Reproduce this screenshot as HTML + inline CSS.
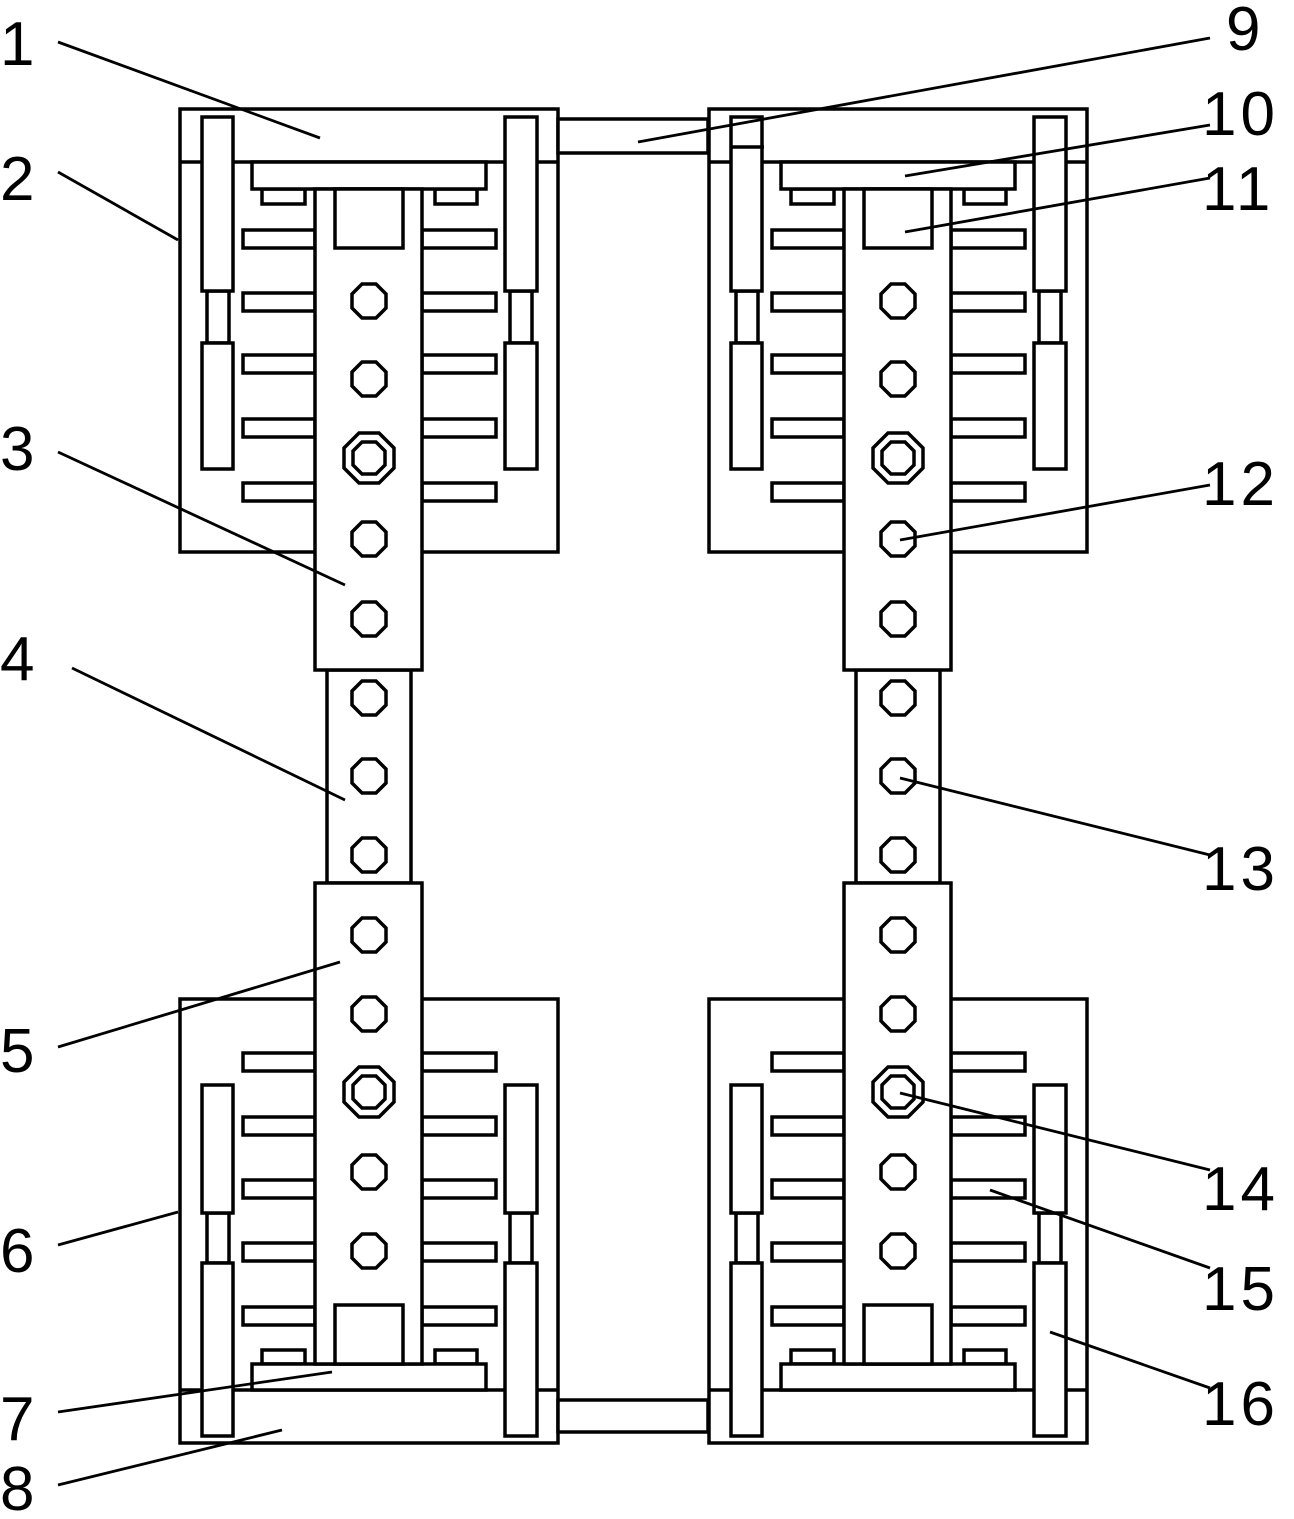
<!DOCTYPE html>
<html><head><meta charset="utf-8"><style>
html,body{margin:0;padding:0;background:#fff;}
svg{display:block;}
text{font-family:"Liberation Sans",sans-serif;font-size:62px;fill:#000;}
</style></head><body>
<svg width="1294" height="1519" viewBox="0 0 1294 1519" xmlns="http://www.w3.org/2000/svg">
<defs>
<g id="oct"><polygon points="-7,-17 7,-17 17,-7 17,7 7,17 -7,17 -17,7 -17,-7" fill="#fff" stroke="#000" stroke-width="3.5"/></g>
<g id="dbl"><polygon points="-10,-25 10,-25 25,-10 25,10 10,25 -10,25 -25,10 -25,-10" fill="#fff" stroke="#000" stroke-width="3.5"/><polygon points="-7,-16 7,-16 16,-7 16,7 7,16 -7,16 -16,7 -16,-7" fill="none" stroke="#000" stroke-width="3.5"/></g>
<g id="left" fill="#fff" stroke="#000" stroke-width="3.5">
  <rect x="180" y="109" width="378" height="443"/>
  <line x1="180" y1="162" x2="558" y2="162"/>
  <rect x="262" y="189" width="43" height="15"/>
  <rect x="435" y="189" width="42" height="15"/>
  <rect x="252" y="162" width="234" height="27"/>
  <rect x="243" y="230" width="72" height="18"/><rect x="243" y="293" width="72" height="18"/><rect x="243" y="355" width="72" height="18"/><rect x="243" y="419" width="72" height="18"/><rect x="243" y="483" width="72" height="18"/>
  <rect x="422" y="230" width="74" height="18"/><rect x="422" y="293" width="74" height="18"/><rect x="422" y="355" width="74" height="18"/><rect x="422" y="419" width="74" height="18"/><rect x="422" y="483" width="74" height="18"/>
  <rect x="207" y="291" width="22" height="52"/>
  <rect x="202" y="117" width="31" height="174"/>
  <rect x="202" y="343" width="31" height="126"/>
  <rect x="510" y="291" width="22" height="52"/>
  <rect x="505" y="117" width="32" height="174"/>
  <rect x="505" y="343" width="32" height="126"/>
  <rect x="180" y="999" width="378" height="444"/>
  <line x1="180" y1="1390" x2="558" y2="1390"/>
  <rect x="243" y="1053" width="72" height="18"/><rect x="243" y="1117" width="72" height="18"/><rect x="243" y="1180" width="72" height="18"/><rect x="243" y="1243" width="72" height="18"/><rect x="243" y="1307" width="72" height="18"/>
  <rect x="422" y="1053" width="74" height="18"/><rect x="422" y="1117" width="74" height="18"/><rect x="422" y="1180" width="74" height="18"/><rect x="422" y="1243" width="74" height="18"/><rect x="422" y="1307" width="74" height="18"/>
  <rect x="262" y="1350" width="43" height="14"/>
  <rect x="435" y="1350" width="42" height="14"/>
  <rect x="252" y="1364" width="234" height="26"/>
  <rect x="207" y="1213" width="22" height="50"/>
  <rect x="202" y="1085" width="31" height="128"/>
  <rect x="202" y="1263" width="31" height="173"/>
  <rect x="510" y="1213" width="22" height="50"/>
  <rect x="505" y="1085" width="32" height="128"/>
  <rect x="505" y="1263" width="32" height="173"/>
  <rect x="327" y="670" width="84" height="213"/>
  <rect x="315" y="189" width="107" height="481"/>
  <rect x="335" y="189" width="68" height="59"/>
  <rect x="315" y="883" width="107" height="481"/>
  <rect x="335" y="1305" width="68" height="59"/>
</g>
</defs>
<use href="#left"/>
<use href="#left" transform="translate(529,0)"/>
<line x1="732" y1="147" x2="764" y2="147" stroke="#000" stroke-width="3.5"/>
<rect x="558" y="119" width="150" height="34" fill="#fff" stroke="#000" stroke-width="3.5"/>
<rect x="558" y="1400" width="150" height="32" fill="#fff" stroke="#000" stroke-width="3.5"/>
<g>
<use href="#oct" x="369" y="301"/><use href="#oct" x="369" y="379"/><use href="#dbl" x="369" y="458"/><use href="#oct" x="369" y="539"/><use href="#oct" x="369" y="619"/>
<use href="#oct" x="369" y="698"/><use href="#oct" x="369" y="776"/><use href="#oct" x="369" y="855"/>
<use href="#oct" x="369" y="935"/><use href="#oct" x="369" y="1014"/><use href="#dbl" x="369" y="1092"/><use href="#oct" x="369" y="1172"/><use href="#oct" x="369" y="1251"/>
<use href="#oct" x="898" y="301"/><use href="#oct" x="898" y="379"/><use href="#dbl" x="898" y="458"/><use href="#oct" x="898" y="539"/><use href="#oct" x="898" y="619"/>
<use href="#oct" x="898" y="698"/><use href="#oct" x="898" y="776"/><use href="#oct" x="898" y="855"/>
<use href="#oct" x="898" y="935"/><use href="#oct" x="898" y="1014"/><use href="#dbl" x="898" y="1092"/><use href="#oct" x="898" y="1172"/><use href="#oct" x="898" y="1251"/>
</g>
<g stroke="#000" stroke-width="2.8">
<line x1="58" y1="42" x2="320" y2="138"/>
<line x1="58" y1="172" x2="178" y2="240"/>
<line x1="58" y1="452" x2="345" y2="585"/>
<line x1="72" y1="668" x2="345" y2="800"/>
<line x1="58" y1="1047" x2="340" y2="962"/>
<line x1="58" y1="1245" x2="178" y2="1212"/>
<line x1="58" y1="1412" x2="332" y2="1372"/>
<line x1="58" y1="1485" x2="282" y2="1430"/>
<line x1="1210" y1="38" x2="638" y2="142"/>
<line x1="1210" y1="125" x2="905" y2="176"/>
<line x1="1210" y1="178" x2="905" y2="232"/>
<line x1="1210" y1="485" x2="900" y2="540"/>
<line x1="1210" y1="855" x2="900" y2="778"/>
<line x1="1210" y1="1170" x2="900" y2="1093"/>
<line x1="1210" y1="1268" x2="990" y2="1190"/>
<line x1="1210" y1="1388" x2="1050" y2="1332"/>
</g>
<text x="0" y="65">1</text>
<text x="0" y="200">2</text>
<text x="0" y="470">3</text>
<text x="0" y="680">4</text>
<text x="0" y="1072">5</text>
<text x="0" y="1272">6</text>
<text x="0" y="1440">7</text>
<text x="0" y="1510">8</text>
<text x="1226" y="50" >9</text>
<text x="1202" y="135" letter-spacing="4">10</text>
<text x="1202" y="210" letter-spacing="4">11</text>
<text x="1202" y="505" letter-spacing="4">12</text>
<text x="1202" y="890" letter-spacing="4">13</text>
<text x="1202" y="1210" letter-spacing="4">14</text>
<text x="1202" y="1310" letter-spacing="4">15</text>
<text x="1202" y="1425" letter-spacing="4">16</text>
</svg>
</body></html>
